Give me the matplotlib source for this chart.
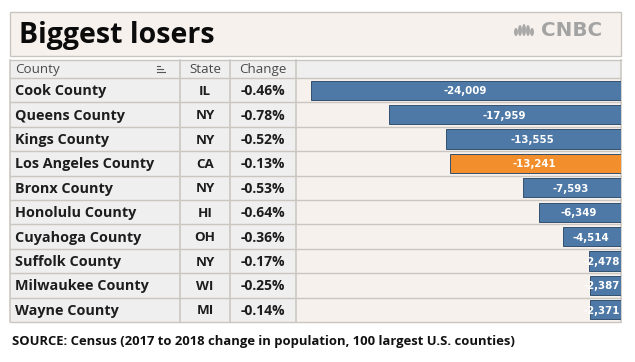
import matplotlib
matplotlib.use("Agg")
import matplotlib.pyplot as plt
from matplotlib.patches import Rectangle, Ellipse

counties = ["Cook County", "Queens County", "Kings County", "Los Angeles County", "Bronx County",
            "Honolulu County", "Cuyahoga County", "Suffolk County", "Milwaukee County", "Wayne County"]
states = ["IL", "NY", "NY", "CA", "NY", "HI", "OH", "NY", "WI", "MI"]
changes = ["-0.46%", "-0.78%", "-0.52%", "-0.13%", "-0.53%", "-0.64%", "-0.36%", "-0.17%", "-0.25%", "-0.14%"]
values = [-24009, -17959, -13555, -13241, -7593, -6349, -4514, -2478, -2387, -2371]
headers = ["County", "State", "Change"]
title = "Biggest losers"
source = "SOURCE: Census (2017 to 2018 change in population, 100 largest U.S. counties)"

W, H = 635, 362
FONT = "Open Sans"
plt.rcParams["font.family"] = [FONT, "DejaVu Sans"]
fig = plt.figure(figsize=(W / 100, H / 100), dpi=100, facecolor="white")
bg = fig.add_axes([0, 0, 1, 1])
bg.set_xlim(0, W)
bg.set_ylim(H, 0)
bg.axis("off")

EDGE = "#c9c5bf"
CREAM = "#f6f1ed"
GREY = "#efefef"
L, R = 10, 621
HEAD_T, HEAD_B, TAB_B = 60, 78, 322
ROW = (TAB_B - HEAD_B) / len(counties)
COLS = [L, 180, 230, 296, R]

# Title panel
bg.add_patch(Rectangle((L, 12), R - L, 44, fc=CREAM, ec=EDGE, lw=1))
bg.text(19, 35, title, fontsize=20.5, fontweight="bold", va="center", ha="left", color="#0b0b0b")

# CNBC mark
for dx, h in [(0, 8), (4, 11), (8, 12), (12, 11), (16, 8)]:
    bg.add_patch(Ellipse((516 + dx, 36 - h / 2), 3.9, h, fc="#a8a8a8", ec="none"))
bg.text(541, 31, "CNBC", fontsize=14.3, fontweight="bold", family="DejaVu Sans", va="center", ha="left", color="#a3a3a3")

# Table background
bg.add_patch(Rectangle((L, HEAD_T), R - L, HEAD_B - HEAD_T, fc=GREY, ec="none"))
bg.add_patch(Rectangle((L, HEAD_B), COLS[3] - L, TAB_B - HEAD_B, fc=GREY, ec="none"))
bg.add_patch(Rectangle((COLS[3], HEAD_B), R - COLS[3], TAB_B - HEAD_B, fc=CREAM, ec="none"))
for i in range(len(counties) + 1):
    y = HEAD_B + i * ROW
    bg.plot([L, R], [y, y], color=EDGE, lw=1, solid_capstyle="butt")
bg.plot([L, R], [HEAD_T, HEAD_T], color=EDGE, lw=1)
for x in [L, *COLS[1:4], R]:
    bg.plot([x, x], [HEAD_T, TAB_B], color=EDGE, lw=1.1)

# Header
TEXT = "#4a4a4a"
bg.text(15, 69.5, headers[0], fontsize=9.6, va="center", ha="left", color=TEXT)
bg.text(205, 69.5, headers[1], fontsize=9.6, va="center", ha="center", color=TEXT)
bg.text(263, 69.5, headers[2], fontsize=9.6, va="center", ha="center", color=TEXT)
for yy, x1 in [(66, 160), (69, 163), (72, 165)]:
    bg.plot([157, x1], [yy, yy], color="#555555", lw=0.8)

# Rows
for i, (c, s, p) in enumerate(zip(counties, states, changes)):
    y = HEAD_B + (i + 0.5) * ROW + 1
    bg.text(15, y, c, fontsize=10.35, fontweight="bold", va="center", ha="left", color="#1d1d1d")
    bg.text(205, y, s, fontsize=9.6, fontweight="bold", va="center", ha="center", color="#1d1d1d")
    bg.text(263, y, p, fontsize=10, fontweight="bold", va="center", ha="center", color="#1d1d1d")

# Bars
ax = fig.add_axes([COLS[3] / W, 1 - TAB_B / H, (R - COLS[3]) / W, (TAB_B - HEAD_B) / H])
ax.patch.set_alpha(0)
ax.set_xlim(-25170, 0)
ax.set_ylim(len(values) - 0.5, -0.5)
ax.axis("off")
colors = ["#f28e2b" if c == "Los Angeles County" else "#4e79a7" for c in counties]
bars = ax.barh(range(len(values)), values, height=0.78, color=colors, edgecolor="#33506f", linewidth=0.7)
for i, v in enumerate(values):
    narrow = abs(v) < 3000
    t = ax.text(-60 if narrow else v / 2 - 100, i + 0.04, f"{v:,}", fontsize=7.4, fontweight="bold",
                family="DejaVu Sans", color="white", va="center", ha="right" if narrow else "center")
    t.set_clip_path(bars[i])

bg.text(12, 341, source, fontsize=9.38, fontweight="bold", va="center", ha="left", color="#111111")

fig.savefig("out.png", dpi=100, facecolor="white")
